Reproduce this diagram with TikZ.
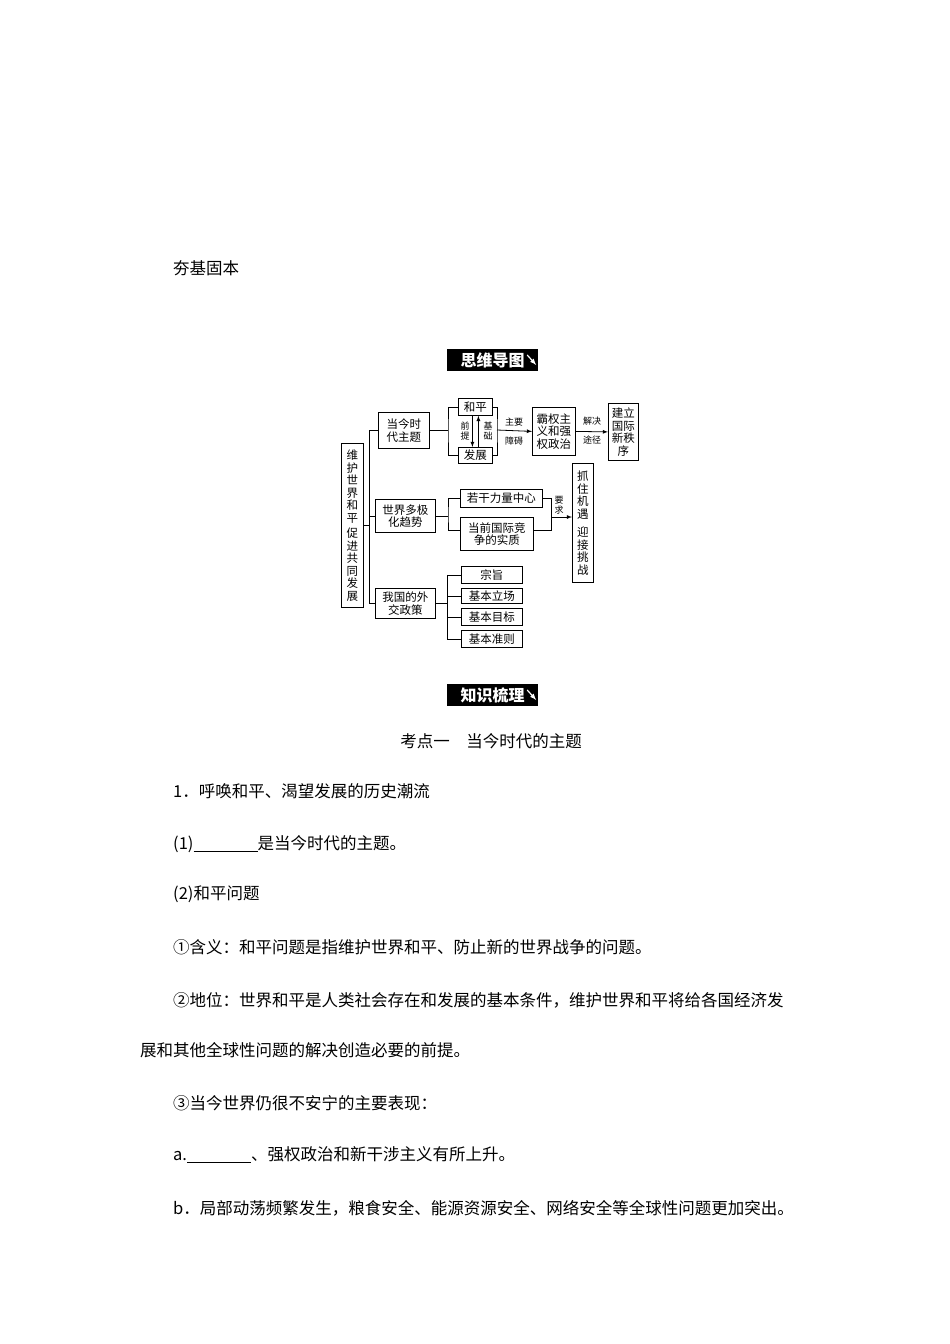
\documentclass[tikz,border=0pt]{standalone}
\usepackage{fontspec}
\newfontfamily\cjk{Noto Sans CJK SC}
\begin{document}
\begin{tikzpicture}[x=1pt,y=-1pt,
  bx/.style={draw,line width=0.8pt,inner sep=1pt,align=center,font=\cjk\fontsize{11.5}{12.5}\selectfont,anchor=north west},
  lab/.style={font=\cjk\fontsize{9}{10}\selectfont,align=center,inner sep=0pt},
  tx/.style={font=\cjk\fontsize{16.5}{18}\selectfont,anchor=west,inner sep=0pt},
  ttl/.style={fill=black,text=white,font=\cjk\bfseries\fontsize{16}{18}\selectfont,inner sep=2pt,anchor=center},
  ln/.style={line width=0.8pt},
  arr/.style={line width=0.8pt,-latex}]
\useasboundingbox (0,0) rectangle (950,1344);
\fill[white] (0,0) rectangle (950,1344);
\node[tx] (t0) at (173,268) {夯基固本};
% title 1
\node[ttl,minimum width=91pt,minimum height=22pt] (h1) at (492.5,360) {思维导图\hspace{9pt}};
\draw[white,line width=1.2pt,-latex] ([xshift=-11pt,yshift=5pt]h1.east) -- ([xshift=-2pt,yshift=-5pt]h1.east);
% boxes
\node[bx,minimum width=22pt,minimum height=164pt] (L) at (341,443) {维\\护\\世\\界\\和\\平\\[3pt]促\\进\\共\\同\\发\\展};
\node[bx,minimum width=51pt,minimum height=36pt] (A) at (378,412) {当今时\\代主题};
\node[bx,minimum width=34pt,minimum height=17pt] (A1) at (458,398) {和平};
\node[bx,minimum width=34pt,minimum height=16pt] (A2) at (458,447) {发展};
\node[bx,minimum width=43pt,minimum height=48pt] (B) at (532,407) {霸权主\\义和强\\权政治};
\node[bx,minimum width=30pt,minimum height=57pt] (C) at (608,403) {建立\\国际\\新秩\\序};
\node[bx,minimum width=21pt,minimum height=119pt] (D) at (572,463) {抓\\住\\机\\遇\\[6pt]迎\\接\\挑\\战};
\node[bx,minimum width=60pt,minimum height=33pt] (M) at (375,499) {世界多极\\化趋势};
\node[bx,minimum width=82pt,minimum height=18pt] (M1) at (460,489) {若干力量中心};
\node[bx,minimum width=73pt,minimum height=33pt] (M2) at (460,517) {当前国际竞\\争的实质};
\node[bx,minimum width=60pt,minimum height=30pt] (W) at (375,588) {我国的外\\交政策};
\node[bx,minimum width=61pt,minimum height=17pt] (W1) at (461,566) {宗旨};
\node[bx,minimum width=61pt,minimum height=15pt] (W2) at (461,588) {基本立场};
\node[bx,minimum width=61pt,minimum height=17pt] (W3) at (461,608) {基本目标};
\node[bx,minimum width=61pt,minimum height=17pt] (W4) at (461,630) {基本准则};
% trunk
\coordinate (tr) at (369,525);
\draw[ln] (L.east) -- (L.east -| tr);
\draw[ln] (A.west -| tr) -- (W.west -| tr);
\draw[ln] (A.west -| tr) -- (A.west);
\draw[ln] (M.west -| tr) -- (M.west);
\draw[ln] (W.west -| tr) -- (W.west);
% theme bracket
\coordinate (b1) at (448,430);
\draw[ln] (A.east) -- (A.east -| b1);
\draw[ln] (A1.west) -| (b1) |- (A2.west);
\coordinate (b2) at (497,430);
\draw[ln] (A1.east) -| (b2) |- (A2.east);
\draw[arr] (b2) -- (B.west);
\draw[arr] (B.east) -- (C.west);
\draw[arr] ([xshift=-3pt]A1.south) -- ([xshift=-3pt]A2.north);
\draw[arr] ([xshift=3pt]A2.north) -- ([xshift=3pt]A1.south);
\node[lab] (q) at (465,431) {前\\提};
\node[lab] (j) at (488,431) {基\\础};
\node[lab] (zy) at (514,422) {主要};
\node[lab] (za) at (514,441) {障碍};
\node[lab] (jj) at (592,421) {解决};
\node[lab] (tj) at (592,440) {途径};
% multipolar
\coordinate (b3) at (448,515);
\draw[ln] (M.east) -- (M.east -| b3);
\draw[ln] (M1.west) -| (b3) |- ([yshift=4pt]M2.west);
\coordinate (b4) at (551,517);
\draw[ln] (M1.east) -| (b4);
\draw[ln] ([yshift=4pt]M2.east) -| (b4);
\draw[arr] (b4) -- (b4 -| D.west);
\node[lab] (yq) at (559,505) {要\\求};
% diplomacy
\coordinate (b5) at (447,603);
\draw[ln] (W.east) -- (W.east -| b5);
\draw[ln] (W1.west -| b5) -- (W4.west -| b5);
\foreach \n in {W1,W2,W3,W4} \draw[ln] (\n.west -| b5) -- (\n.west);
% title 2
\node[ttl,minimum width=91pt,minimum height=22pt] (h2) at (492.5,695) {知识梳理\hspace{9pt}};
\draw[white,line width=1.2pt,-latex] ([xshift=-11pt,yshift=5pt]h2.east) -- ([xshift=-2pt,yshift=-5pt]h2.east);
\node[tx,anchor=center] (k1) at (491,741) {考点一\quad 当今时代的主题};
\node[tx] (p1) at (173,791) {1．呼唤和平、渴望发展的历史潮流};
\node[tx] (p2) at (173,844) {(1)\underline{\hspace{64pt}}是当今时代的主题。};
\node[tx] (p3) at (173,894) {(2)和平问题};
\node[tx] (p4) at (173,947) {①含义：和平问题是指维护世界和平、防止新的世界战争的问题。};
\node[tx] (p5) at (173,1000) {②地位：世界和平是人类社会存在和发展的基本条件，维护世界和平将给各国经济发};
\node[tx] (p6) at (140,1050) {展和其他全球性问题的解决创造必要的前提。};
\node[tx] (p7) at (173,1103) {③当今世界仍很不安宁的主要表现：};
\node[tx] (p8) at (173,1155) {a.\underline{\hspace{64pt}}、强权政治和新干涉主义有所上升。};
\node[tx] (p9) at (173,1208) {b．局部动荡频繁发生，粮食安全、能源资源安全、网络安全等全球性问题更加突出。};
\end{tikzpicture}
\end{document}
